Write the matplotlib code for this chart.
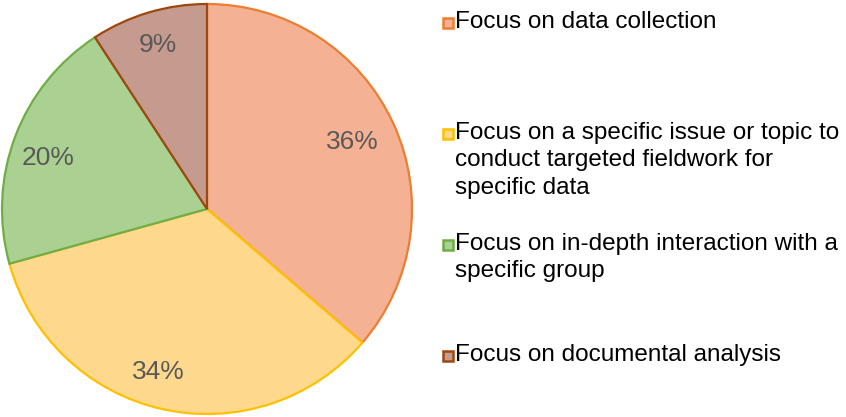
import matplotlib
matplotlib.use("Agg")
import numpy as np
import matplotlib.pyplot as plt
from matplotlib.patches import Rectangle

categories = ["Focus on data collection",
              "Focus on a specific issue or topic to\nconduct targeted fieldwork for\nspecific data",
              "Focus on in-depth interaction with a\nspecific group",
              "Focus on documental analysis"]
shares = [36.3, 34.4, 20.1, 9.2]
fills = ["#F5B193", "#FED98D", "#AAD192", "#C59A8F"]
edges = ["#ED7D31", "#FFC000", "#70AD47", "#9E480E"]

plt.rcParams["font.family"] = ["Liberation Sans", "DejaVu Sans"]

def main():
    fig = plt.figure(figsize=(8.46, 4.17), dpi=100)
    W, H = 846.0, 417.0
    cx, cy, r = 207, 209, 205
    ax = fig.add_axes([(cx - r) / W, (H - cy - r) / H, 2 * r / W, 2 * r / H])

    wedges, texts, autotexts = ax.pie(
        shares, colors=fills, startangle=90, counterclock=False,
        radius=1.0, autopct=lambda p: "%d%%" % round(p), pctdistance=0.8,
        wedgeprops=dict(linewidth=1.6), textprops=dict(fontsize=19, color="#595959"))
    for w, ec in zip(wedges, edges):
        w.set_edgecolor(ec)
        w.set_clip_on(False)

    # nudge the percent labels like Excel's "best fit"
    dist = [0.78, 0.83, 0.815, 0.835]
    turn = [0, -4, 3, 0]
    for w, t, d, a in zip(wedges, autotexts, dist, turn):
        ang = np.deg2rad((w.theta1 + w.theta2) / 2 + a)
        t.set_position((d * np.cos(ang), d * np.sin(ang)))

    ax.set_xlim(-1, 1)
    ax.set_ylim(-1, 1)
    ax.set_aspect("equal")

    # legend drawn by hand, each entry in its own slot
    for i, (lab, fc, ec) in enumerate(zip(categories, fills, edges)):
        y = 23 + i * 111
        fig.patches.append(Rectangle((443 / W, 1 - (y + 5) / H), 10 / W, 10 / H,
                                     facecolor=fc, edgecolor=ec, linewidth=1.8,
                                     transform=fig.transFigure))
        fig.text(455 / W, 1 - (y - 12) / H, lab, fontsize=17.5, color="black",
                 va="top", ha="left", linespacing=1.32)

    fig.savefig("out.png", dpi=100)

if __name__ == "__main__":
    main()
